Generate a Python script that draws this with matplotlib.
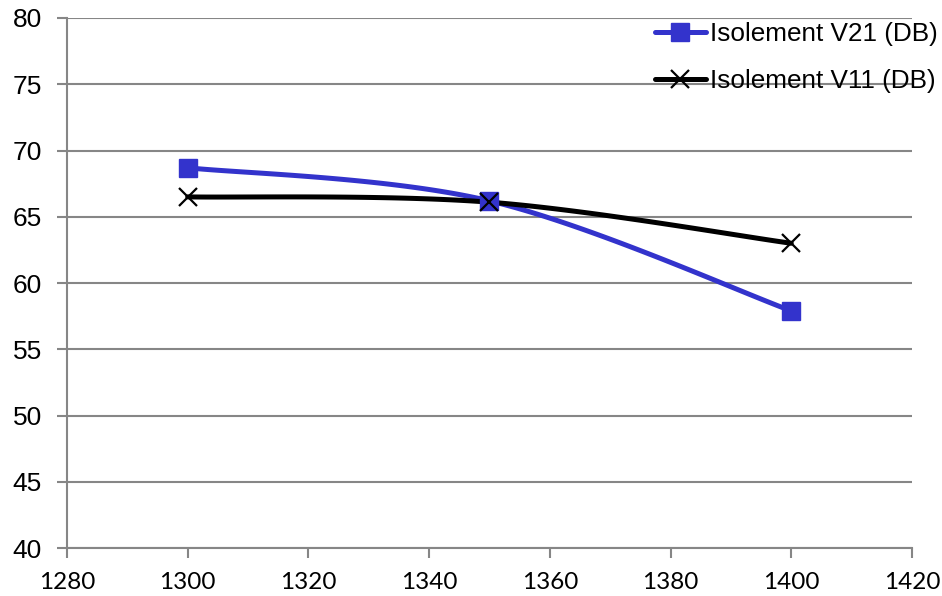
import numpy as np
import matplotlib
matplotlib.use('Agg')
import matplotlib.pyplot as plt

# frequency (MHz) and isolation readings
freq = [1300, 1350, 1400]
iso_v21 = [68.7, 66.2, 57.9]
iso_v11 = [66.5, 66.1, 63.0]
labels = ['Isolement V21 (DB)', 'Isolement V11 (DB)']


def smooth(xs, ys, n=60):
    # cubic bezier through the points, catmull-rom style tangents
    p = np.column_stack([xs, ys]).astype(float)
    pts = np.vstack([p[0], p, p[-1]])
    out = []
    for i in range(1, len(pts) - 2):
        p0, p1, p2, p3 = pts[i - 1], pts[i], pts[i + 1], pts[i + 2]
        c1 = p1 + (p2 - p0) / 6.0
        c2 = p2 - (p3 - p1) / 6.0
        t = np.linspace(0, 1, n)[:, None]
        seg = ((1 - t) ** 3) * p1 + 3 * ((1 - t) ** 2) * t * c1 \
            + 3 * (1 - t) * t ** 2 * c2 + t ** 3 * p2
        out.append(seg if i == 1 else seg[1:])
    s = np.vstack(out)
    return s[:, 0], s[:, 1]


plt.rcParams['font.family'] = ['Liberation Sans', 'DejaVu Sans']

fig = plt.figure(figsize=(9.42, 5.96), dpi=100)
ax = fig.add_axes([0.0711, 0.0805, 0.8970, 0.8893])

blue = '#3333cc'
grid = '#868686'

sx, sy = smooth(freq, iso_v21)
ax.plot(sx, sy, color=blue, lw=3.6, solid_capstyle='round', zorder=3)
ax.plot(freq, iso_v21, ls='none', marker='s', ms=13, color=blue, zorder=4)

sx, sy = smooth(freq, iso_v11)
ax.plot(sx, sy, color='black', lw=3.6, solid_capstyle='round', zorder=3)
ax.plot(freq, iso_v11, ls='none', marker='x', ms=13, mew=1.6, color='black', zorder=5)

# legend proxies
h1, = ax.plot([], [], color=blue, lw=3.6, marker='s', ms=13, solid_capstyle='round')
h2, = ax.plot([], [], color='black', lw=3.6, marker='x', ms=13, mew=1.6,
              mec='black', solid_capstyle='round')
leg = ax.legend([h1, h2], labels, loc='upper right', bbox_to_anchor=(1.035, 1.0),
                frameon=False, fontsize=18.8, handlelength=1.95, handletextpad=0.15,
                labelspacing=0.9, borderaxespad=0.0, borderpad=0.15)

ax.set_xlim(1280, 1420)
ax.set_ylim(40, 80)
ax.set_xticks(np.arange(1280, 1421, 20))
ax.set_yticks(np.arange(40, 81, 5))

ax.yaxis.grid(True, color=grid, lw=1.5)
ax.set_axisbelow(True)
for side in ['top', 'right']:
    ax.spines[side].set_visible(False)
for side in ['left', 'bottom']:
    ax.spines[side].set_color(grid)
    ax.spines[side].set_linewidth(1.5)

ax.tick_params(axis='both', color=grid, width=1.5, length=7)
ax.tick_params(axis='y', labelsize=19, pad=11)
ax.tick_params(axis='x', labelsize=17.5, pad=10)
for lab in ax.get_xticklabels():
    lab.set_fontfamily(['Lato', 'DejaVu Sans'])

fig.savefig('out.png', dpi=100)
